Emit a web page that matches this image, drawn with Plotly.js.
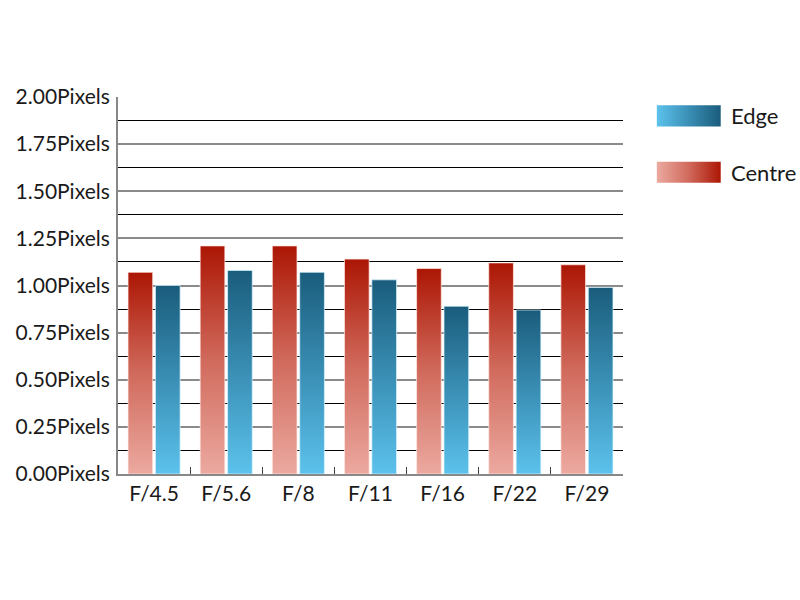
<!DOCTYPE html>
<html>
<head>
<meta charset="utf-8">
<script src="https://cdn.plot.ly/plotly-3.0.1.min.js"></script>
<style>html,body{margin:0;padding:0;background:#fff;}#chart{width:800px;height:600px;}</style>
</head>
<body>
<div id="chart"></div>
<script>
var categories = ['F/4.5', 'F/5.6', 'F/8', 'F/11', 'F/16', 'F/22', 'F/29'];
var centreValues = [1.07, 1.21, 1.21, 1.14, 1.09, 1.12, 1.11];
var edgeValues = [1.00, 1.08, 1.07, 1.03, 0.89, 0.87, 0.99];
var seriesNames = ['Centre', 'Edge'];
var yTicks = [0, 0.25, 0.5, 0.75, 1.0, 1.25, 1.5, 1.75, 2.0];
var yTickLabels = ['0.00Pixels', '0.25Pixels', '0.50Pixels', '0.75Pixels', '1.00Pixels',
                   '1.25Pixels', '1.50Pixels', '1.75Pixels', '2.00Pixels'];

var FONT = 'Lato, "Open Sans", sans-serif';

var traces = [
  {type: 'bar', name: seriesNames[0], x: categories, y: centreValues,
   marker: {color: '#c85a4a', line: {color: 'rgba(255,235,230,0.7)', width: 1}}},
  {type: 'bar', name: seriesNames[1], x: categories, y: edgeValues,
   marker: {color: '#3a8ab0', line: {color: 'rgba(220,245,255,0.7)', width: 1}}}
];

var layout = {
  width: 800, height: 600,
  margin: {l: 118, r: 177, t: 97, b: 126},
  paper_bgcolor: '#fff', plot_bgcolor: '#fff',
  showlegend: false,
  barmode: 'group', bargap: 0.24, bargroupgap: 0.1,
  font: {family: FONT, size: 21, color: '#1a1a1a'},
  xaxis: {
    type: 'category', showgrid: false, zeroline: false,
    showline: true, linecolor: '#888', linewidth: 2,
    ticks: 'inside', tickson: 'boundaries', ticklen: 7, tickcolor: '#444', tickwidth: 1,
    tickfont: {family: FONT, size: 21, color: '#1a1a1a'}
  },
  yaxis: {
    range: [0, 2.0], tickmode: 'array', tickvals: yTicks, ticktext: yTickLabels,
    showgrid: true, gridcolor: '#8a8a8a', gridwidth: 2,
    zeroline: false, showline: true, linecolor: '#888', linewidth: 2,
    ticks: '', ticklabelstandoff: 2,
    tickfont: {family: FONT, size: 21, color: '#1a1a1a'},
    minor: {dtick: 0.125, tick0: 0, showgrid: true, gridcolor: '#000', gridwidth: 1, ticks: ''}
  },
  shapes: [
    {type: 'rect', xref: 'paper', yref: 'paper', x0: 1.067, x1: 1.1935, y0: 0.922, y1: 0.978,
     line: {width: 0}, fillcolor: '#3a8ab0', layer: 'above'},
    {type: 'rect', xref: 'paper', yref: 'paper', x0: 1.067, x1: 1.1935, y0: 0.7727, y1: 0.8284,
     line: {width: 0}, fillcolor: '#c85a4a', layer: 'above'}
  ],
  annotations: [
    {xref: 'paper', yref: 'paper', x: 1.21, y: 0.95, xanchor: 'left', yanchor: 'middle',
     text: seriesNames[1], showarrow: false, font: {family: FONT, size: 22, color: '#1a1a1a'}},
    {xref: 'paper', yref: 'paper', x: 1.21, y: 0.80, xanchor: 'left', yanchor: 'middle',
     text: seriesNames[0], showarrow: false, font: {family: FONT, size: 22, color: '#1a1a1a'}}
  ]
};

function addGradient(defs, id, horizontal, stops) {
  var ns = 'http://www.w3.org/2000/svg';
  var g = document.createElementNS(ns, 'linearGradient');
  g.setAttribute('id', id);
  if (horizontal) {
    g.setAttribute('x1', '0'); g.setAttribute('y1', '0');
    g.setAttribute('x2', '1'); g.setAttribute('y2', '0');
  } else {
    g.setAttribute('x1', '0'); g.setAttribute('y1', '1');
    g.setAttribute('x2', '0'); g.setAttribute('y2', '0');
  }
  stops.forEach(function (s) {
    var st = document.createElementNS(ns, 'stop');
    st.setAttribute('offset', s[0]);
    st.setAttribute('stop-color', s[1]);
    g.appendChild(st);
  });
  defs.appendChild(g);
}

Plotly.newPlot('chart', traces, layout, {staticPlot: true}).then(function (gd) {
  var svg = gd.querySelector('svg.main-svg');
  var ns = 'http://www.w3.org/2000/svg';
  var defs = svg.querySelector('defs');
  if (!defs) { defs = document.createElementNS(ns, 'defs'); svg.insertBefore(defs, svg.firstChild); }
  var cStops = [['0', '#eca9a0'], ['0.5', '#d06a5c'], ['1', '#ac1604']];
  var eStops = [['0', '#5cc2ec'], ['0.5', '#3a8fb5'], ['1', '#1a5c7c']];
  addGradient(defs, 'gradC', false, cStops);
  addGradient(defs, 'gradE', false, eStops);
  addGradient(defs, 'gradCL', true, cStops);
  addGradient(defs, 'gradEL', true, eStops);
  var barTraces = gd.querySelectorAll('.barlayer .trace.bars');
  barTraces.forEach(function (t, i) {
    t.querySelectorAll('path').forEach(function (p) {
      p.style.fill = i === 0 ? 'url(#gradC)' : 'url(#gradE)';
    });
  });
  var shapes = gd.querySelectorAll('.shapelayer path');
  if (shapes[0]) shapes[0].style.fill = 'url(#gradEL)';
  if (shapes[1]) shapes[1].style.fill = 'url(#gradCL)';
});
</script>
</body>
</html>
